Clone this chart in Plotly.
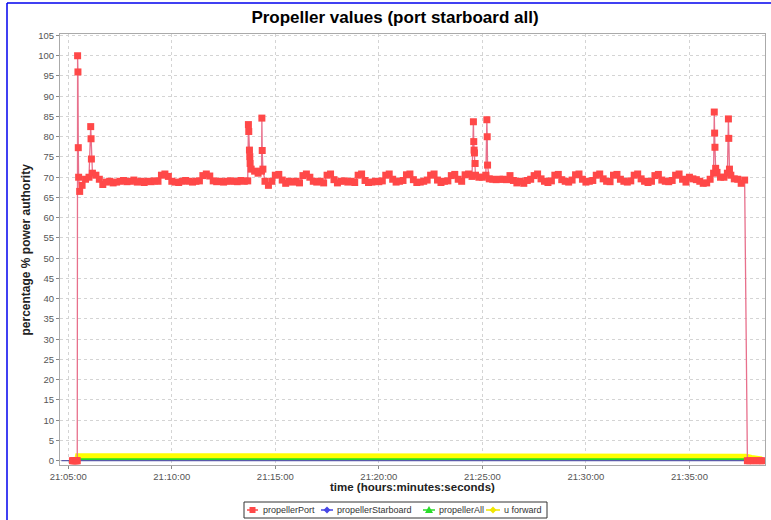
import plotly.graph_objects as go
import pandas as pd

DAY = "2000-01-01 "

# ---------------- data ----------------
# propellerPort: regular 10-second samples from 21:05:30 to 21:37:40 (one row per minute)
port_rows = [
    [70.0, 68.0, 69.5],                       # 21:05:30..21:05:50
    [70.0, 71.0, 70.5, 69.5, 68.2, 68.8],     # 21:06
    [69.0, 68.6, 68.8, 69.0, 69.2, 68.9],     # 21:07
    [69.0, 69.3, 68.8, 69.0, 68.7, 69.0],     # 21:08
    [68.9, 69.1, 69.0, 70.5, 70.8, 70.2],     # 21:09
    [69.0, 68.8, 68.7, 69.0, 69.2, 69.0],     # 21:10
    [68.8, 69.0, 69.1, 70.4, 70.8, 70.3],     # 21:11
    [69.1, 68.9, 69.0, 68.8, 69.0, 69.1],     # 21:12
    [69.0, 68.9, 69.2, 69.0, 69.1, 72.0],     # 21:13
    [71.5, 71.0, 71.5, 69.0, 68.0, 69.0],     # 21:14
    [70.5, 70.7, 69.3, 68.5, 69.0, 68.8],     # 21:15
    [69.0, 68.6, 70.4, 70.8, 70.0, 69.0],     # 21:16
    [68.8, 69.0, 68.6, 70.5, 70.8, 69.4],     # 21:17
    [68.6, 69.0, 69.1, 68.8, 69.0, 68.7],     # 21:18
    [70.5, 70.8, 69.2, 68.7, 68.8, 69.0],     # 21:19
    [68.9, 69.1, 70.5, 70.8, 69.5, 68.8],     # 21:20
    [69.0, 69.2, 70.6, 70.8, 69.4, 68.7],     # 21:21
    [68.8, 69.0, 69.3, 70.5, 70.8, 69.3],     # 21:22
    [68.7, 69.0, 69.1, 70.4, 70.7, 69.5],     # 21:23
    [69.0, 70.6, 70.8, 70.2, 70.5, 70.0],     # 21:24
    [70.0, 70.5, 69.6, 69.5, 69.4, 69.5],     # 21:25
    [69.5, 69.4, 70.4, 69.2, 68.6, 69.0],     # 21:26
    [68.5, 69.2, 69.5, 70.4, 70.8, 69.6],     # 21:27
    [69.0, 68.7, 69.1, 70.5, 70.7, 69.4],     # 21:28
    [69.0, 68.8, 69.3, 70.6, 70.8, 69.5],     # 21:29
    [68.8, 69.0, 69.2, 70.5, 70.8, 69.6],     # 21:30
    [69.0, 68.9, 70.5, 70.7, 69.5, 69.0],     # 21:31
    [68.8, 69.1, 70.5, 70.8, 69.6, 69.0],     # 21:32
    [68.7, 69.0, 70.4, 70.7, 69.3, 69.0],     # 21:33
    [68.9, 69.2, 70.5, 70.8, 69.5, 68.8],     # 21:34
    [70.0, 69.6, 69.4, 69.0, 68.5, 68.6],     # 21:35
    [69.5, 71.0, 71.2, 70.0, 70.0, 71.0],     # 21:36
    [70.5, 69.6, 69.5, 68.5, 69.3],           # 21:37:00..21:37:40
]
port_start = "21:05:30"
port_end = "21:37:40"

# propellerPort: irregular points (start/end at zero, spikes)
port_extra_times = [
    "21:05:12", "21:05:15", "21:05:18", "21:05:21", "21:05:24", "21:05:26",
    "21:05:27", "21:05:28", "21:05:29", "21:05:33",
    "21:06:05", "21:06:06", "21:06:07",
    "21:13:42", "21:13:43", "21:13:45", "21:13:46", "21:13:47",
    "21:14:21", "21:14:22", "21:14:24",
    "21:24:34", "21:24:35", "21:24:36", "21:24:37", "21:24:39",
    "21:25:13", "21:25:14", "21:25:15",
    "21:36:12", "21:36:13", "21:36:14", "21:36:16",
    "21:36:53", "21:36:54", "21:36:56",
    "21:37:48", "21:37:55", "21:38:05", "21:38:15", "21:38:25", "21:38:33",
]
port_extra_values = [
    0, 0, 0, 0, 0, 0,
    100.0, 96.0, 77.3, 66.5,
    82.5, 79.5, 74.5,
    83.0, 81.3, 76.7, 75.1, 73.4,
    84.6, 76.6, 72.0,
    83.7, 78.8, 76.7, 76.0, 73.4,
    84.2, 80.0, 73.0,
    86.1, 80.9, 77.4, 72.2,
    84.4, 79.6, 72.0,
    0, 0, 0, 0, 0, 0,
]

# propellerStarboard
stbd_times = ["21:04:40", "21:05:27", "21:21:00", "21:37:48", "21:38:39"]
stbd_values = [0, 0, 0, 0, 0]

# propellerAll
all_times = ["21:05:26", "21:05:27", "21:37:47", "21:37:48"]
all_values = [0, 0.35, 0.35, 0]

# u forward
uf_times = ["21:05:26", "21:05:28"] + [f"21:{m:02d}:00" for m in range(6, 38)] + \
           ["21:37:45", "21:38:00", "21:38:15", "21:38:30"]
uf_values = [0.3, 1.1,
             1.1, 1.1, 1.1, 1.1, 1.1, 1.15, 1.1, 1.1, 1.2, 1.2,
             1.1, 1.1, 1.1, 1.1, 1.1, 1.1, 1.1, 1.15, 1.1, 1.2,
             1.1, 1.1, 1.1, 1.1, 1.1, 1.1, 1.1, 1.1, 1.15, 1.1,
             1.1, 1.1,
             1.0, 0.7, 0.5, 0.3]

series_names = ["propellerPort", "propellerStarboard", "propellerAll", "u forward"]

y_ticks = list(range(0, 106, 5))
x_range = ["21:04:36", "21:38:39"]
y_range = [-1.06, 105.37]

# ---------------- build ----------------
base_vals = [v for row in port_rows for v in row]
base_times = pd.date_range(DAY + port_start, DAY + port_end, freq="10s")
port = pd.concat([
    pd.DataFrame({"t": base_times, "v": base_vals}),
    pd.DataFrame({"t": pd.to_datetime([DAY + t for t in port_extra_times]), "v": port_extra_values}),
]).sort_values("t")

def ts(lst):
    return [DAY + t for t in lst]

RED_M = "rgb(255,72,72)"
RED_L = "rgb(232,112,140)"
BLUE = "rgb(70,70,230)"
GREEN = "rgb(40,220,40)"
YELLOW = "rgb(255,255,0)"
YELLOW_LEG = "rgb(240,230,0)"

fig = go.Figure()
fig.add_trace(go.Scatter(x=ts(uf_times), y=uf_values, mode="lines",
                         line=dict(color=YELLOW, width=6), showlegend=False, hoverinfo="skip"))
fig.add_trace(go.Scatter(x=ts(all_times), y=all_values, mode="lines",
                         line=dict(color=GREEN, width=2), showlegend=False, hoverinfo="skip"))
fig.add_trace(go.Scatter(x=ts(stbd_times), y=stbd_values, mode="lines",
                         line=dict(color="rgb(90,90,170)", width=1.2), showlegend=False, hoverinfo="skip"))
fig.add_trace(go.Scatter(x=port["t"], y=port["v"], mode="lines+markers",
                         line=dict(color=RED_L, width=1.3),
                         marker=dict(symbol="square", size=7, color=RED_M, line=dict(width=0)),
                         showlegend=False, hoverinfo="skip"))

L, R, T, B = 60, 6, 34, 55
W, H = 771, 520
pw, ph = W - L - R, H - T - B

def px_x(p):
    return (p - L) / pw

def px_y(p):
    return 1 - (p - T) / ph

# ---- compact legend (box, symbols, real text labels) ----
leg_y = 510
leg_box = (244, 502, 547, 518)
leg_items = [  # (line x0, line x1, text x, colour, marker)
    (247, 258, 261, RED_M, "square"),
    (321, 333, 335, BLUE, "diamond"),
    (423, 435, 437, GREEN, "triangle"),
    (486, 500, 502, YELLOW_LEG, "diamond"),
]
shapes = [
    dict(type="line", xref="paper", yref="paper", x0=px_x(7), x1=px_x(7),
         y0=px_y(3), y1=px_y(520), line=dict(color="#0000ee", width=1.5)),
    dict(type="line", xref="paper", yref="paper", x0=px_x(7), x1=px_x(771),
         y0=px_y(3), y1=px_y(3), line=dict(color="#0000ee", width=1.5)),
    dict(type="rect", xref="paper", yref="paper", x0=px_x(leg_box[0]), x1=px_x(leg_box[2]),
         y0=px_y(leg_box[1]), y1=px_y(leg_box[3]), line=dict(color="#333", width=1),
         fillcolor="white"),
]
annotations = [
    dict(text="<b>time (hours:minutes:seconds)</b>", xref="paper", yref="paper",
         x=0.5, y=px_y(487), xanchor="center", yanchor="middle", showarrow=False,
         font=dict(size=11.5, color="#222")),
    dict(text="<b>percentage % power authority</b>", xref="paper", yref="paper",
         x=px_x(25), y=0.5, xanchor="center", yanchor="middle", showarrow=False,
         textangle=-90, font=dict(size=12, color="#222")),
]
for name, (lx0, lx1, tx, col, mk) in zip(series_names, leg_items):
    cx = (lx0 + lx1) / 2
    shapes.append(dict(type="line", xref="paper", yref="paper", x0=px_x(lx0), x1=px_x(lx1),
                       y0=px_y(leg_y), y1=px_y(leg_y), line=dict(color=col, width=1.5)))
    if mk == "square":
        shapes.append(dict(type="rect", xref="paper", yref="paper",
                           x0=px_x(cx - 3), x1=px_x(cx + 3), y0=px_y(leg_y - 3), y1=px_y(leg_y + 3),
                           fillcolor=col, line=dict(width=0)))
    else:
        if mk == "diamond":
            pts = [(cx, leg_y - 3.5), (cx + 3.5, leg_y), (cx, leg_y + 3.5), (cx - 3.5, leg_y)]
        else:
            pts = [(cx, leg_y - 4), (cx + 4, leg_y + 3), (cx - 4, leg_y + 3)]
        path = "M " + " L ".join(f"{px_x(a):.5f},{px_y(b):.5f}" for a, b in pts) + " Z"
        shapes.append(dict(type="path", xref="paper", yref="paper", path=path,
                           fillcolor=col, line=dict(width=0)))
    annotations.append(dict(text=name, xref="paper", yref="paper", x=px_x(tx), y=px_y(leg_y),
                            xanchor="left", yanchor="middle", showarrow=False,
                            font=dict(size=9, color="#333")))

fig.update_layout(
    width=W, height=H,
    margin=dict(l=L, r=R, t=T, b=B, autoexpand=False),
    paper_bgcolor="white", plot_bgcolor="white",
    font=dict(family="Liberation Sans", color="#444"),
    title=dict(text="<b>Propeller values (port starboard all)</b>",
               x=395 / W, xanchor="center", y=1 - 17 / H, yanchor="middle",
               font=dict(size=17, color="black", family="Liberation Sans")),
    showlegend=False,
    xaxis=dict(type="date", range=ts(x_range), tickformat="%H:%M:%S",
               dtick=300000, tick0=DAY + "21:05:00",
               showgrid=True, gridcolor="#d4d4d4", griddash="dot", gridwidth=1,
               showline=True, linecolor="#aaa", mirror=True,
               ticks="outside", ticklen=3, tickcolor="#888",
               tickfont=dict(size=9.5, color="#555"), zeroline=False),
    yaxis=dict(range=y_range, tickvals=y_ticks,
               showgrid=True, gridcolor="#d4d4d4", griddash="dot", gridwidth=1,
               showline=True, linecolor="#aaa", mirror=True,
               ticks="outside", ticklen=3, tickcolor="#888",
               tickfont=dict(size=9.5, color="#555"), zeroline=False),
    annotations=annotations,
    shapes=shapes,
)

# remove the default 8px page margin so the figure sits at the window's top-left corner
fig.write_html("out.html", config={"displayModeBar": False},
               post_script="document.body.style.margin='0px';")
